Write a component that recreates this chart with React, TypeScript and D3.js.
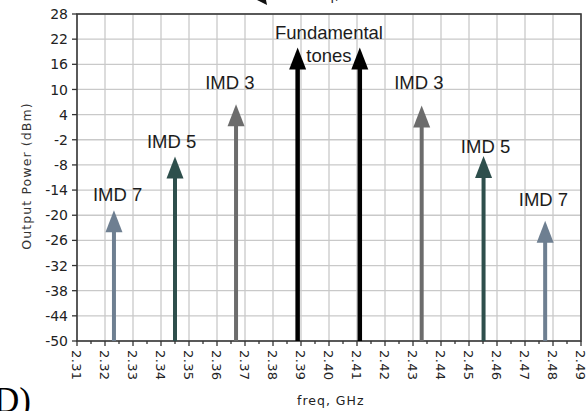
import React from "react";
import * as d3 from "d3";

const W = 588;
const H = 411;

// Spectral lines (arrows): frequency in GHz, output power in dBm
const toneNames = ["IMD 7", "IMD 5", "IMD 3", "F1", "F2", "IMD 3", "IMD 5", "IMD 7"];
const toneFreqs = [2.3232, 2.345, 2.3668, 2.3888, 2.411, 2.4331, 2.4552, 2.4772];
const tonePowers = [-18.8, -6.0, 6.5, 20.0, 20.0, 6.2, -5.9, -21.3];
const toneColors = ["#6e7f91", "#2e4f4c", "#6c6c6c", "#000000", "#000000", "#6c6c6c", "#2e4f4c", "#6e7f91"];

// Annotation texts anchored in data units (freq, dBm)
const labelTexts = ["IMD 7", "IMD 5", "IMD 3", "Fundamental", "tones", "IMD 3", "IMD 5", "IMD 7"];
const labelFreqs = [2.3245, 2.3438, 2.3646, 2.4, 2.4, 2.4321, 2.4559, 2.4766];
const labelPowers = [-16.6, -4.0, 10.1, 22.0, 16.6, 10.1, -5.2, -17.8];

// Axes
const yTicks = [28, 22, 16, 10, 4, -2, -8, -14, -20, -26, -32, -38, -44, -50];
const xTicks = [2.31, 2.32, 2.33, 2.34, 2.35, 2.36, 2.37, 2.38, 2.39, 2.4, 2.41, 2.42, 2.43, 2.44, 2.45, 2.46, 2.47, 2.48, 2.49];
const xMinorTicks = [2.315, 2.325, 2.335, 2.345, 2.355, 2.365, 2.375, 2.385, 2.395, 2.405, 2.415, 2.425, 2.435, 2.445, 2.455, 2.465, 2.475, 2.485];
const xTickLabels = ["2.31", "2.32", "2.33", "2.34", "2.35", "2.36", "2.37", "2.38", "2.39", "2.40", "2.41", "2.42", "2.43", "2.44", "2.45", "2.46", "2.47", "2.48", "2.49"];
const yTitle = "Output Power (dBm)";
const xTitle = "freq, GHz";

const M = { left: 77, right: 581, top: 14, bottom: 341 };

export default function App() {
  const x = d3.scaleLinear().domain([2.31, 2.49]).range([M.left, M.right]);
  const y = d3.scaleLinear().domain([-50, 28]).range([M.bottom, M.top]);

  const headH = 22;
  const headW = 17;

  return (
    <div style={{ position: "fixed", left: 0, top: 0, width: W, height: H, background: "#fff" }}>
      <svg width={W} height={H} style={{ display: "block" }}>
        <rect x={0} y={0} width={W} height={H} fill="#fff" />
        {/* fragment from figure above */}
        <text x={305} y={0} fontFamily="'DejaVu Sans', sans-serif" fontSize={13} fill="#222" letterSpacing={1}>
          {xTitle}
        </text>
        <path d="M257,0 L266,0 L267,5 Z" fill="#111" />

        {/* grid */}
        {xTicks.map((t, i) => (
          <line key={"gx" + i} x1={x(t)} x2={x(t)} y1={M.top} y2={M.bottom} stroke="#c9c9c9" strokeWidth={1.3} />
        ))}
        {yTicks.map((t, i) => (
          <line key={"gy" + i} x1={M.left} x2={M.right} y1={y(t)} y2={y(t)} stroke="#c9c9c9" strokeWidth={1.3} />
        ))}
        <rect x={M.left} y={M.top} width={M.right - M.left} height={M.bottom - M.top} fill="none" stroke="#3a3a3a" strokeWidth={1.6} />

        {/* y ticks */}
        {yTicks.map((t, i) => (
          <g key={"yt" + i}>
            <line x1={M.left - 5} x2={M.left} y1={y(t)} y2={y(t)} stroke="#333" strokeWidth={1.3} />
            <text x={M.left - 9} y={y(t)} dy="0.36em" textAnchor="end" fontFamily="'DejaVu Sans', sans-serif" fontSize={14} fill="#222">
              {t}
            </text>
          </g>
        ))}
        {/* x ticks */}
        {xTicks.map((t, i) => (
          <g key={"xt" + i}>
            <line x1={x(t)} x2={x(t)} y1={M.bottom} y2={M.bottom + 5} stroke="#333" strokeWidth={1.3} />
            <text
              transform={`translate(${x(t)},${M.bottom + 9}) rotate(90)`}
              dy="0.36em"
              textAnchor="start"
              fontFamily="'DejaVu Sans', sans-serif"
              fontSize={13}
              letterSpacing={0.4}
              fill="#222"
            >
              {xTickLabels[i]}
            </text>
          </g>
        ))}
        {xMinorTicks.map((t, i) => (
          <line key={"xm" + i} x1={x(t)} x2={x(t)} y1={M.bottom} y2={M.bottom + 3} stroke="#333" strokeWidth={1.3} />
        ))}

        {/* arrows */}
        {toneFreqs.map((f, i) => {
          const cx = x(f);
          const tip = y(tonePowers[i]);
          const base = tip + headH;
          const sw = i === 3 || i === 4 ? 4.5 : 4;
          return (
            <g key={"ar" + i}>
              <line x1={cx} x2={cx} y1={M.bottom} y2={base - 1} stroke={toneColors[i]} strokeWidth={sw} />
              <path d={`M${cx},${tip} L${cx - headW / 2},${base} L${cx + headW / 2},${base} Z`} fill={toneColors[i]} />
            </g>
          );
        })}

        {/* annotations */}
        {labelTexts.map((t, i) => (
          <text
            key={"lb" + i}
            x={x(labelFreqs[i])}
            y={y(labelPowers[i])}
            textAnchor="middle"
            fontFamily="'Liberation Sans', Arial, sans-serif"
            fontSize={18.5}
            fill="#1c1c1c"
          >
            {t}
          </text>
        ))}

        {/* axis titles */}
        <text
          transform={`translate(31,176) rotate(-90)`}
          textAnchor="middle"
          fontFamily="'DejaVu Sans', sans-serif"
          fontSize={12.5}
          letterSpacing={1.1}
          fill="#333"
        >
          {yTitle}
        </text>
        <text x={297} y={405} fontFamily="'DejaVu Sans', sans-serif" fontSize={12.5} letterSpacing={1} fill="#222">
          {xTitle}
        </text>

        {/* panel letter fragment */}
        <text x={-6} y={412} fontFamily="'Liberation Serif', serif" fontSize={35} fill="#000">
          D)
        </text>
      </svg>
    </div>
  );
}
